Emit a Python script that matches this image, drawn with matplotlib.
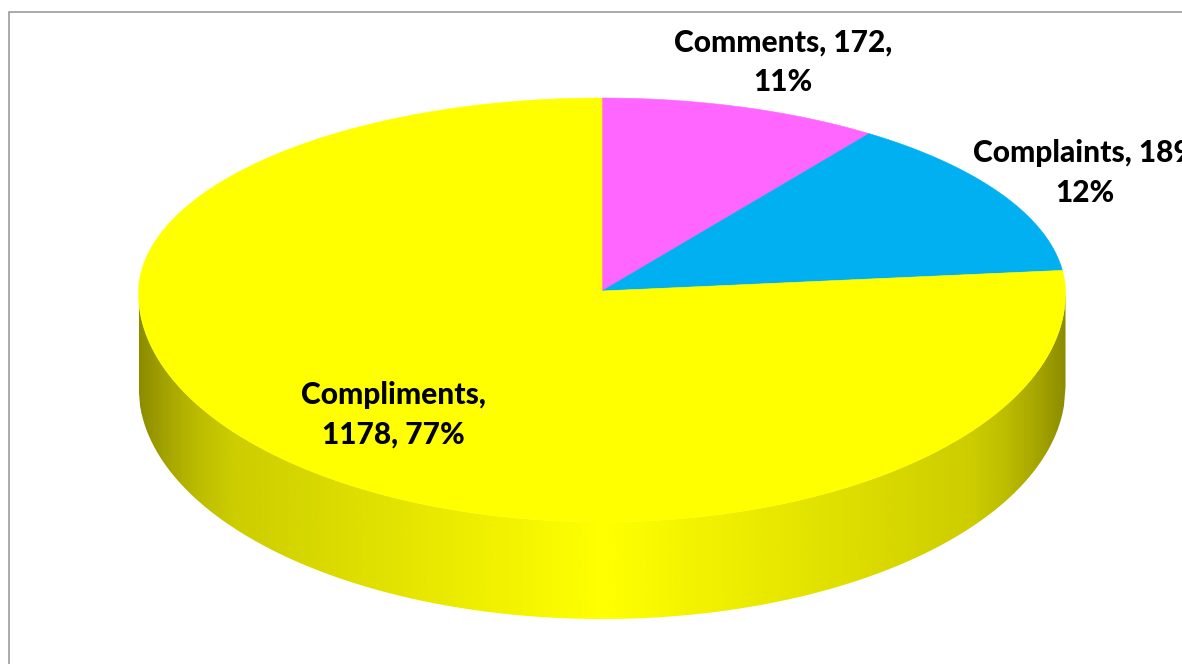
import matplotlib
matplotlib.use('Agg')
import matplotlib.pyplot as plt
from matplotlib.colors import LinearSegmentedColormap
from matplotlib.patches import Polygon
import numpy as np

categories = ['Comments', 'Complaints', 'Compliments']
values = [172, 189, 1178]
slice_colors = ['#FF66FF', '#00B0F0', '#FFFF00']
label_templates = ['{name}, {value},\n{pct}%', '{name}, {value},\n{pct}%', '{name},\n{value}, {pct}%']

plt.rcParams['font.family'] = ['Lato', 'DejaVu Sans']

W, H = 1182, 664

# geometry of the tilted disc, in pixels
cx, cy = 602, 293
apex_y = 291
rx = 463.5
ry_back, ry_front = 195, 229
depth = 94
ry_base = 232
foreshorten = 1.2

# side wall shading, by distance from the middle of the disc
shade_pos = [0, 0.65, 0.8, 0.87, 0.94, 1.0]
shade_lev = [255, 214, 204, 189, 165, 140]


def rim(theta):
    # theta in radians, clockwise from 12 o'clock
    t = np.arctan2(foreshorten * np.cos(theta), np.sin(theta))
    x = cx + rx * np.cos(t)
    s = np.sin(t)
    y = cy - np.where(s >= 0, ry_back, ry_front) * s
    return x, y


fig = plt.figure(figsize=(W / 100, H / 100), dpi=100)
ax = fig.add_axes([0, 0, 1, 1])

# chart frame, runs off the right and bottom edges
ax.plot([8.5, 8.5, W + 5], [H + 5, 11.5, 11.5], color='#9C9C9C', lw=1.2, solid_joinstyle='miter')

# side wall
xs = np.linspace(cx - rx, cx + rx, 600)
arc = np.sqrt(np.clip(1 - ((xs - cx) / rx) ** 2, 0, 1))
wall_top = cy + ry_front * arc
wall_bottom = cy + depth + ry_base * arc
wall = Polygon(np.r_[np.c_[xs, wall_top], np.c_[xs[::-1], wall_bottom[::-1]]],
               closed=True, fc='none', ec='none', transform=ax.transData)
ax.add_patch(wall)
shade = np.interp(np.abs(xs - cx) / rx, shade_pos, shade_lev)
cmap = LinearSegmentedColormap.from_list('wall', ['#000000', '#FFFF00'])
img = ax.imshow(shade[None, :], cmap=cmap, vmin=0, vmax=255, aspect='auto',
                extent=(cx - rx, cx + rx, wall_bottom.max(), cy), interpolation='bilinear')
img.set_clip_path(wall)

# top face slices, clockwise from 12 o'clock
total = sum(values)
edges = np.cumsum([0] + values) / total * 2 * np.pi
for i in range(len(values)):
    th = np.linspace(edges[i], edges[i + 1], 400)
    x, y = rim(th)
    ax.add_patch(Polygon(np.r_[[[cx, apex_y]], np.c_[x, y]], closed=True,
                         fc=slice_colors[i], ec=slice_colors[i], lw=0.4))

# data labels
label_xy = [(783, 62), (1085, 173), (393, 415)]
for i, name in enumerate(categories):
    txt = label_templates[i].format(name=name, value=values[i], pct=round(values[i] / total * 100))
    t = ax.text(label_xy[i][0], label_xy[i][1], txt, ha='center', va='center', fontsize=21.5,
                fontweight='black', color='black', linespacing=1.48)

ax.set_xlim(0, W)
ax.set_ylim(H, 0)
ax.axis('off')

fig.savefig('out.png', dpi=100)
